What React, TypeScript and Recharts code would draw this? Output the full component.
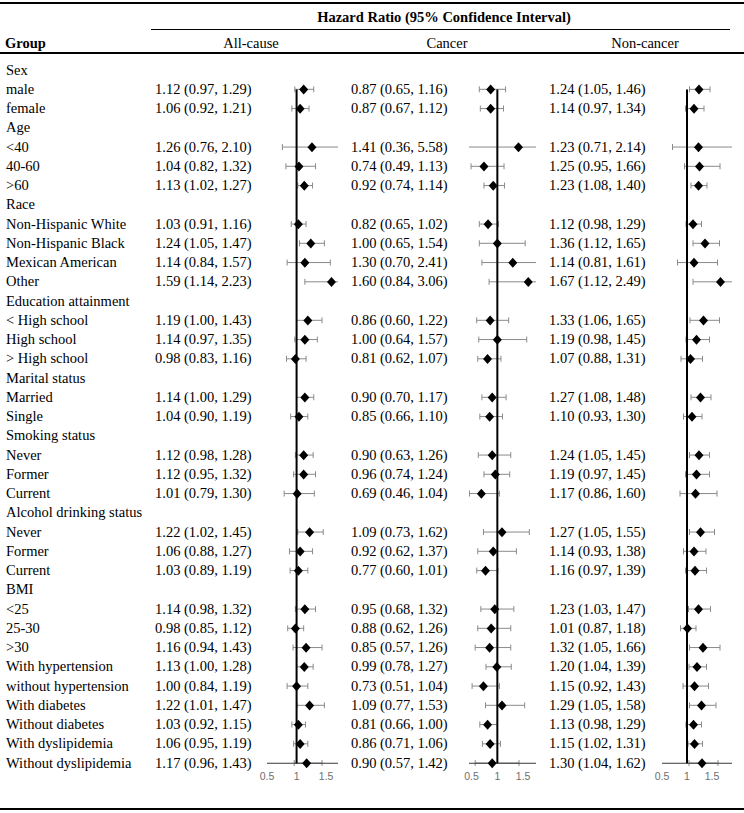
import React from 'react';
import { ComposedChart, Bar, Line, XAxis, YAxis, ReferenceLine } from 'recharts';

const groups = [
  'Sex', 'male', 'female',
  'Age', '<40', '40-60', '>60',
  'Race', 'Non-Hispanic White', 'Non-Hispanic Black', 'Mexican American', 'Other',
  'Education attainment', '< High school', 'High school', '> High school',
  'Marital status', 'Married', 'Single',
  'Smoking status', 'Never', 'Former', 'Current',
  'Alcohol drinking status', 'Never', 'Former', 'Current',
  'BMI', '<25', '25-30', '>30',
  'With hypertension', 'without hypertension', 'With diabetes', 'Without diabetes',
  'With dyslipidemia', 'Without dyslipidemia',
];

// null = section heading row
const allHr = [null, 1.12, 1.06, null, 1.26, 1.04, 1.13, null, 1.03, 1.24, 1.14, 1.59, null, 1.19, 1.14, 0.98, null, 1.14, 1.04, null, 1.12, 1.12, 1.01, null, 1.22, 1.06, 1.03, null, 1.14, 0.98, 1.16, 1.13, 1.00, 1.22, 1.03, 1.06, 1.17];
const allLo = [null, 0.97, 0.92, null, 0.76, 0.82, 1.02, null, 0.91, 1.05, 0.84, 1.14, null, 1.00, 0.97, 0.83, null, 1.00, 0.90, null, 0.98, 0.95, 0.79, null, 1.02, 0.88, 0.89, null, 0.98, 0.85, 0.94, 1.00, 0.84, 1.01, 0.92, 0.95, 0.96];
const allHi = [null, 1.29, 1.21, null, 2.10, 1.32, 1.27, null, 1.16, 1.47, 1.57, 2.23, null, 1.43, 1.35, 1.16, null, 1.29, 1.19, null, 1.28, 1.32, 1.30, null, 1.45, 1.27, 1.19, null, 1.32, 1.12, 1.43, 1.28, 1.19, 1.47, 1.15, 1.19, 1.43];

const canHr = [null, 0.87, 0.87, null, 1.41, 0.74, 0.92, null, 0.82, 1.00, 1.30, 1.60, null, 0.86, 1.00, 0.81, null, 0.90, 0.85, null, 0.90, 0.96, 0.69, null, 1.09, 0.92, 0.77, null, 0.95, 0.88, 0.85, 0.99, 0.73, 1.09, 0.81, 0.86, 0.90];
const canLo = [null, 0.65, 0.67, null, 0.36, 0.49, 0.74, null, 0.65, 0.65, 0.70, 0.84, null, 0.60, 0.64, 0.62, null, 0.70, 0.66, null, 0.63, 0.74, 0.46, null, 0.73, 0.62, 0.60, null, 0.68, 0.62, 0.57, 0.78, 0.51, 0.77, 0.66, 0.71, 0.57];
const canHi = [null, 1.16, 1.12, null, 5.58, 1.13, 1.14, null, 1.02, 1.54, 2.41, 3.06, null, 1.22, 1.57, 1.07, null, 1.17, 1.10, null, 1.26, 1.24, 1.04, null, 1.62, 1.37, 1.01, null, 1.32, 1.26, 1.26, 1.27, 1.04, 1.53, 1.00, 1.06, 1.42];

const nonHr = [null, 1.24, 1.14, null, 1.23, 1.25, 1.23, null, 1.12, 1.36, 1.14, 1.67, null, 1.33, 1.19, 1.07, null, 1.27, 1.10, null, 1.24, 1.19, 1.17, null, 1.27, 1.14, 1.16, null, 1.23, 1.01, 1.32, 1.20, 1.15, 1.29, 1.13, 1.15, 1.30];
const nonLo = [null, 1.05, 0.97, null, 0.71, 0.95, 1.08, null, 0.98, 1.12, 0.81, 1.12, null, 1.06, 0.98, 0.88, null, 1.08, 0.93, null, 1.05, 0.97, 0.86, null, 1.05, 0.93, 0.97, null, 1.03, 0.87, 1.05, 1.04, 0.92, 1.05, 0.98, 1.02, 1.04];
const nonHi = [null, 1.46, 1.34, null, 2.14, 1.66, 1.40, null, 1.29, 1.65, 1.61, 2.49, null, 1.65, 1.45, 1.31, null, 1.48, 1.30, null, 1.45, 1.45, 1.60, null, 1.55, 1.38, 1.39, null, 1.47, 1.18, 1.66, 1.39, 1.43, 1.58, 1.29, 1.31, 1.62];

const axisTicks = [0.5, 1, 1.5];

const ROW_H = 19.25;
const ROW0 = 70.25; // centre of the first row
const PLOT_TOP = ROW0 - ROW_H / 2;
const PLOT_H = ROW_H * groups.length;
const SERIF = '"Liberation Serif", "Times New Roman", serif';
const FS = 14.5;

const fmt = (h, l, u) => (h == null ? '' : `${h.toFixed(2)} (${l.toFixed(2)}, ${u.toFixed(2)})`);

const CiShape = (props: any) => {
  const { x, y, width, height, payload } = props;
  if (!payload || payload.ci == null || x == null || width == null) return <g />;
  const cy = y + height / 2;
  return (
    <g stroke="#8a8a8a" strokeWidth={1}>
      <line x1={x} x2={x + width} y1={cy} y2={cy} />
      {payload.capLo && <line x1={x} x2={x} y1={cy - 3} y2={cy + 3} />}
      {payload.capHi && <line x1={x + width} x2={x + width} y1={cy - 3} y2={cy + 3} />}
    </g>
  );
};

const Diamond = (props: any) => {
  const { cx, cy, payload } = props;
  if (!payload || payload.hr == null || cx == null || cy == null) return <g key={props.index} />;
  return (
    <path
      key={props.index}
      d={`M${cx},${cy - 5} L${cx + 4.5},${cy} L${cx},${cy + 5} L${cx - 4.5},${cy} Z`}
      fill="#000"
    />
  );
};

const PAD = 12;

const Forest = ({ hr, lo, hi, domain, left, width }) => {
  const data = groups.map((g, i) => {
    if (hr[i] == null) return { id: 'r' + i, hr: null, ci: null };
    const a = Math.max(lo[i], domain[0]);
    const b = Math.min(hi[i], domain[1]);
    return { id: 'r' + i, hr: hr[i], ci: [a, b], capLo: lo[i] >= domain[0], capHi: hi[i] <= domain[1] };
  });
  const last = 'r' + (groups.length - 1);
  return (
    <div style={{ position: 'absolute', left: left - PAD, top: 0 }}>
      <ComposedChart
        layout="vertical"
        width={width + PAD * 2}
        height={PLOT_TOP + PLOT_H + 22}
        data={data}
        margin={{ top: PLOT_TOP, right: PAD, bottom: 0, left: PAD }}
      >
        <XAxis
          type="number"
          domain={domain}
          ticks={axisTicks}
          allowDataOverflow
          interval={0}
          axisLine={false}
          tickLine={false}
          tickSize={0}
          tickMargin={0}
          height={22}
          tick={{ fontSize: 10.5, fill: '#6e6e6e', fontFamily: '"Liberation Sans", Arial, sans-serif' }}
        />
        <YAxis type="category" dataKey="id" hide />
        <ReferenceLine y={last} stroke="#3a3a3a" strokeWidth={1} />
        <Bar dataKey="ci" isAnimationActive={false} shape={CiShape} />
        <ReferenceLine segment={[{ x: 1, y: 'r1' }, { x: 1, y: last }]} stroke="#000" strokeWidth={2} />
        <Line dataKey="hr" stroke="none" isAnimationActive={false} dot={Diamond} activeDot={false} />
      </ComposedChart>
    </div>
  );
};

const rowTop = (i) => ROW0 + i * ROW_H - ROW_H / 2;

const txt = (left, top, content, extra = {}) => (
  <div
    style={{
      position: 'absolute',
      left,
      top,
      height: ROW_H,
      lineHeight: `${ROW_H}px`,
      fontSize: FS,
      fontFamily: SERIF,
      whiteSpace: 'nowrap',
      color: '#000',
      ...extra,
    }}
  >
    {content}
  </div>
);

const rule = (top, left, width, h) => (
  <div style={{ position: 'absolute', top, left, width, height: h, background: '#000' }} />
);

export default function App() {
  return (
    <div style={{ position: 'absolute', left: 0, top: 0, width: 744, height: 813, background: '#fff', overflow: 'hidden' }}>
      {rule(2, 0, 744, 2)}
      {txt(244, 7.5, 'Hazard Ratio (95% Confidence Interval)', { width: 400, textAlign: 'center', fontWeight: 'bold' })}
      {rule(28.5, 151, 579, 1.5)}
      {txt(5, 33.5, 'Group', { fontWeight: 'bold' })}
      {txt(151, 33.5, 'All-cause', { width: 200, textAlign: 'center' })}
      {txt(347, 33.5, 'Cancer', { width: 200, textAlign: 'center' })}
      {txt(545, 33.5, 'Non-cancer', { width: 200, textAlign: 'center' })}
      {rule(52, 0, 744, 2)}

      {groups.map((g, i) => (
        <React.Fragment key={i}>
          {txt(6, rowTop(i), g)}
          {txt(155, rowTop(i), fmt(allHr[i], allLo[i], allHi[i]))}
          {txt(351, rowTop(i), fmt(canHr[i], canLo[i], canHi[i]))}
          {txt(549, rowTop(i), fmt(nonHr[i], nonLo[i], nonHi[i]))}
        </React.Fragment>
      ))}

      <Forest hr={allHr} lo={allLo} hi={allHi} domain={[0.5, 1.7]} left={267} width={71} />
      <Forest hr={canHr} lo={canLo} hi={canHi} domain={[0.45, 1.75]} left={469} width={67} />
      <Forest hr={nonHr} lo={nonLo} hi={nonHi} domain={[0.5, 1.9]} left={662} width={70} />

      {rule(808, 0, 744, 2)}
    </div>
  );
}
